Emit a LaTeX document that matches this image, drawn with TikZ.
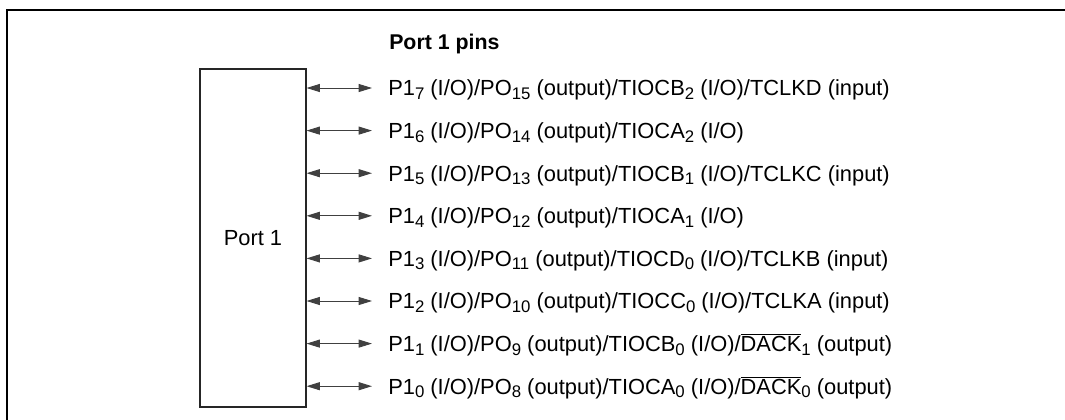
\documentclass[tikz,border=0pt]{standalone}
\usepackage{fontspec}
\setmainfont{Liberation Sans}
\usetikzlibrary{arrows.meta}
\newcommand\sbs[1]{\raisebox{-2.8pt}{\fontsize{12.6pt}{13pt}\selectfont #1}}
\newcommand\ovl[1]{$\overline{\mbox{#1}}$}
\begin{document}
\begin{tikzpicture}[x=0.75pt,y=-0.75pt,
  font=\fontsize{16.4pt}{19pt}\selectfont,
  frame/.style={line width=1.5pt,black},
  portbox/.style={draw=black!85,line width=0.8pt,minimum width=79.5pt,minimum height=253.5pt,inner sep=0pt},
  pin/.style={anchor=west,inner sep=0pt,text height=11.7pt,text depth=0pt},
  biarrow/.style={draw=black!75,line width=0.7pt,{Triangle[length=10pt,width=6pt]}-{Triangle[length=10pt,width=6pt]}},
  title/.style={anchor=base west,inner sep=0pt,font=\fontsize{16pt}{19pt}\selectfont\bfseries}]
\useasboundingbox (0,0) rectangle (1065,419);
\draw[frame] (7,421) -- (7,10) -- (1067,10);
\node[title] (ttl) at (389,49) {Port 1 pins};
\node[portbox] (port) at (253,238) {Port 1};
\foreach \i/\y in {7/88,6/130.6,5/173.2,4/215.8,3/258.4,2/301,1/343.6,0/386.2}{
  \coordinate (a\i) at (372,\y);
}
\node[pin] (p7) at (388,88) {P1\sbs{7} (I/O)/PO\sbs{15} (output)/TIOCB\sbs{2} (I/O)/TCLKD (input)};
\node[pin] (p6) at (388,130.6) {P1\sbs{6} (I/O)/PO\sbs{14} (output)/TIOCA\sbs{2} (I/O)};
\node[pin] (p5) at (388,173.2) {P1\sbs{5} (I/O)/PO\sbs{13} (output)/TIOCB\sbs{1} (I/O)/TCLKC (input)};
\node[pin] (p4) at (388,215.8) {P1\sbs{4} (I/O)/PO\sbs{12} (output)/TIOCA\sbs{1} (I/O)};
\node[pin] (p3) at (388,258.4) {P1\sbs{3} (I/O)/PO\sbs{11} (output)/TIOCD\sbs{0} (I/O)/TCLKB (input)};
\node[pin] (p2) at (388,301) {P1\sbs{2} (I/O)/PO\sbs{10} (output)/TIOCC\sbs{0} (I/O)/TCLKA (input)};
\node[pin] (p1) at (388,343.6) {P1\sbs{1} (I/O)/PO\sbs{9} (output)/TIOCB\sbs{0} (I/O)/\ovl{DACK}\sbs{1} (output)};
\node[pin] (p0) at (388,386.2) {P1\sbs{0} (I/O)/PO\sbs{8} (output)/TIOCA\sbs{0} (I/O)/\ovl{DACK}\sbs{0} (output)};
\foreach \i in {7,6,5,4,3,2,1,0}{
  \draw[biarrow] (port.east |- a\i) -- (a\i);
}
\end{tikzpicture}
\end{document}
